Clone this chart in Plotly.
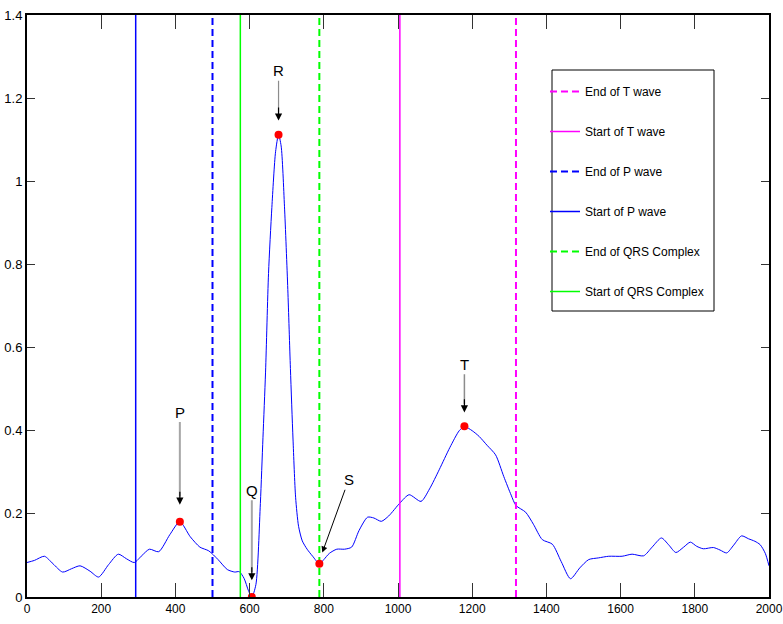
import plotly.graph_objects as go

# ECG signal (sample index, amplitude)
ecg_x = [0, 20, 47, 70, 96, 120, 143, 170, 193, 220, 246, 268, 289, 310, 330, 355, 385, 412,
         440, 466, 490, 515, 540, 560, 572, 585, 597, 606, 617, 629, 636, 643, 651, 660, 670,
         678, 685, 694, 703, 710, 717, 724, 732, 742, 755, 770, 788, 800, 815, 835, 856, 875,
         895, 918, 935, 955, 975, 1005, 1030, 1062, 1085, 1111, 1140, 1165, 1179, 1200, 1219,
         1240, 1263, 1285, 1305, 1318, 1344, 1365, 1389, 1416, 1440, 1465, 1490, 1514, 1540,
         1568, 1604, 1631, 1662, 1685, 1710, 1730, 1749, 1770, 1788, 1805, 1823, 1850, 1868,
         1886, 1905, 1926, 1945, 1962, 1976, 1990, 2000]
ecg_y = [0.083, 0.088, 0.098, 0.080, 0.060, 0.068, 0.075, 0.062, 0.048, 0.078, 0.103, 0.092,
         0.083, 0.100, 0.115, 0.109, 0.150, 0.181, 0.145, 0.120, 0.111, 0.090, 0.066, 0.060,
         0.061, 0.045, 0.015, 0.000, 0.030, 0.225, 0.383, 0.541, 0.778, 0.937, 1.071, 1.112,
         1.085, 0.940, 0.740, 0.550, 0.380, 0.240, 0.170, 0.135, 0.115, 0.098, 0.080, 0.090,
         0.105, 0.115, 0.115, 0.120, 0.160, 0.192, 0.190, 0.182, 0.195, 0.226, 0.246, 0.230,
         0.260, 0.306, 0.360, 0.400, 0.410, 0.400, 0.386, 0.365, 0.342, 0.290, 0.245, 0.220,
         0.204, 0.175, 0.138, 0.127, 0.085, 0.044, 0.070, 0.090, 0.094, 0.098, 0.098, 0.103,
         0.099, 0.120, 0.142, 0.125, 0.107, 0.120, 0.132, 0.122, 0.116, 0.119, 0.113, 0.106,
         0.125, 0.147, 0.140, 0.134, 0.126, 0.105, 0.075]

# Fiducial points
peak_labels = ["P", "Q", "R", "S", "T"]
peak_x = [412, 606, 678, 788, 1179]
peak_y = [0.181, 0.0, 1.112, 0.080, 0.411]

# Boundary markers (legend order)
bound_names = ["End of T wave", "Start of T wave", "End of P wave", "Start of P wave",
               "End of QRS Complex", "Start of QRS Complex"]
bound_x = [1318, 1005, 500, 293, 788, 575]
bound_color = ["#ff00ff", "#ff00ff", "#0000ff", "#0000ff", "#00ff00", "#00ff00"]
bound_dash = ["7px,4px", "solid", "7px,4px", "solid", "7px,4px", "solid"]

x_ticks = [0, 200, 400, 600, 800, 1000, 1200, 1400, 1600, 1800, 2000]
y_ticks = [0, 0.2, 0.4, 0.6, 0.8, 1.0, 1.2, 1.4]

FONT = "Liberation Sans, Arial, sans-serif"

L, R, T, B = 27, 14, 15, 27
W, H = 783, 624
PW, PH = W - L - R, H - T - B


def px2paper_x(p):
    return (p - L) / PW


def px2paper_y(p):
    return (H - B - p) / PH


fig = go.Figure()

fig.add_trace(go.Scatter(x=ecg_x, y=ecg_y, mode="lines",
                         line=dict(color="#0000ff", width=1, shape="spline", smoothing=0.7),
                         showlegend=False, hoverinfo="skip"))

for i, (name, bx, col, dsh) in enumerate(zip(bound_names, bound_x, bound_color, bound_dash)):
    fig.add_trace(go.Scatter(x=[bx, bx], y=[0, 1.4], mode="lines", name=name,
                             legendgroup=f"g{i}",
                             line=dict(color=col, width=2 if dsh != "solid" else 1.5, dash=dsh)))

fig.add_trace(go.Scatter(x=peak_x, y=peak_y, mode="markers",
                         marker=dict(color="#ff0000", size=8, line=dict(width=0)),
                         showlegend=False))

# Arrow annotations
text_y = {"P": 0.445, "Q": 0.257, "R": 1.266, "T": 0.56}
tip_y = {"P": 0.222, "Q": 0.040, "R": 1.146, "T": 0.444}
shaft_col = {"P": "#a6a6a6", "Q": "#a6a6a6", "R": "#8c8c8c", "T": "#8c8c8c"}
shaft_w = {"P": 2, "Q": 2, "R": 1.2, "T": 1.5}
for lab, px, py in zip(peak_labels, peak_x, peak_y):
    if lab == "S":
        fig.add_annotation(x=796, y=0.107, ax=867, ay=0.282, axref="x", ayref="y",
                           text="S", showarrow=True, arrowhead=2, arrowsize=1.2,
                           arrowwidth=1, arrowcolor="black",
                           font=dict(family=FONT, size=15, color="black"))
        continue
    fig.add_annotation(x=px, y=tip_y[lab] + 0.02, ax=px, ay=text_y[lab], axref="x", ayref="y",
                       text=lab, showarrow=True, arrowhead=0, arrowwidth=shaft_w[lab],
                       arrowcolor=shaft_col[lab], font=dict(family=FONT, size=15, color="black"))
    fig.add_annotation(x=px, y=tip_y[lab], ax=px, ay=tip_y[lab] + 0.035, axref="x", ayref="y",
                       text="", showarrow=True, arrowhead=2, arrowsize=1.2, arrowwidth=1.2,
                       arrowcolor="black")

# legend frame
fig.add_shape(type="rect", xref="paper", yref="paper",
              x0=px2paper_x(552), x1=px2paper_x(714),
              y0=px2paper_y(311), y1=px2paper_y(70),
              line=dict(color="black", width=1), fillcolor="white", layer="above")

fig.update_layout(
    width=W, height=H,
    margin=dict(l=L, r=R, t=T, b=B),
    plot_bgcolor="white", paper_bgcolor="white",
    font=dict(family=FONT, size=13, color="black"),
    showlegend=True,
    legend=dict(x=px2paper_x(545), y=px2paper_y(77), xanchor="left", yanchor="top",
                bgcolor="rgba(0,0,0,0)", borderwidth=0, tracegroupgap=21,
                font=dict(family=FONT, size=12, color="black"), itemwidth=30),
    xaxis=dict(range=[0, 2000], tickvals=x_ticks, ticks="inside", ticklen=14,
               tickcolor="#333", showline=True, linecolor="black", linewidth=2,
               mirror="ticks", showgrid=False, zeroline=False, automargin=False,
               ticklabeloverflow="allow", tickfont=dict(size=12)),
    yaxis=dict(range=[0, 1.4], tickvals=y_ticks, ticks="inside", ticklen=8,
               tickcolor="#333", showline=True, linecolor="black", linewidth=2,
               mirror="ticks", showgrid=False, zeroline=False, automargin=False,
               ticklabeloverflow="allow"),
)

fig.write_html("out.html")
